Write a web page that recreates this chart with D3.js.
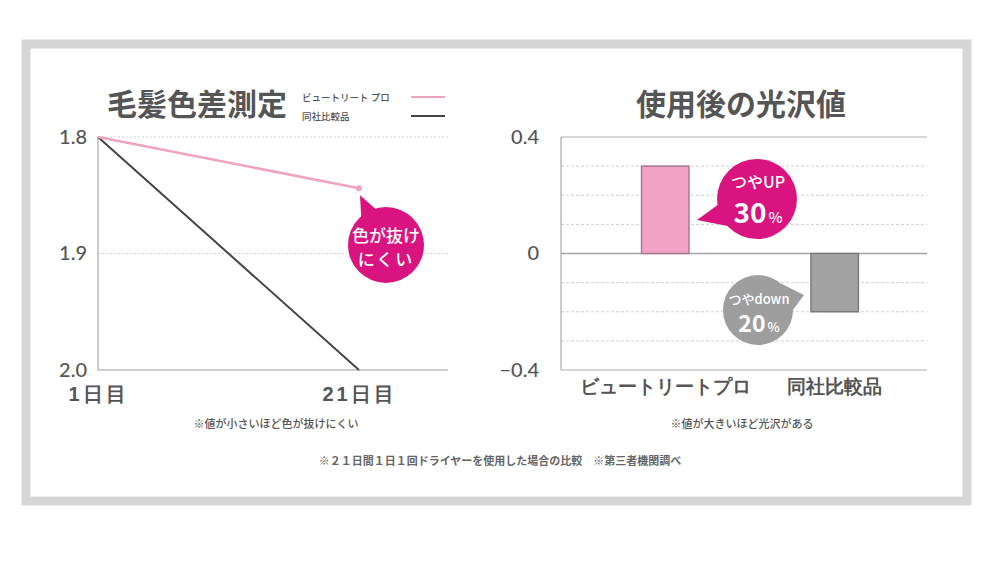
<!DOCTYPE html>
<html>
<head>
<meta charset="utf-8">
<script src="https://cdn.jsdelivr.net/npm/d3@7"></script>
<style>
  html, body { margin: 0; padding: 0; background: #fff; }
  svg { display: block; font-family: "Noto Sans CJK JP", "Noto Sans", sans-serif; }
</style>
</head>
<body>
<svg id="chart" width="1000" height="563"></svg>
<script>
// ---- data ----
const day_labels = ["1日目", "21日目"];
const color_diff_pro = [1.8, 1.844];
const color_diff_other = [1.8, 2.0];
const color_ticks = [1.8, 1.9, 2.0];

const gloss_categories = ["ビュートリートプロ", "同社比較品"];
const gloss_values = [0.3, -0.2];
const gloss_ticks = [0.4, 0, -0.4];
const gloss_grid = [0.3, 0.2, 0.1, -0.1, -0.2, -0.3];

const legend_names = ["ビュートリート プロ", "同社比較品"];

const svg = d3.select("#chart");
const text_color = "#555";
const magenta = "#d9137f";

// outer frame
svg.append("rect")
  .attr("x", 26).attr("y", 44)
  .attr("width", 941).attr("height", 457)
  .attr("fill", "#fff")
  .attr("stroke", "#d6d6d6")
  .attr("stroke-width", 9);

// ---------------- left chart: 毛髪色差測定 ----------------
function build_line_chart() {
  const left = 98, right = 448, top = 137, bottom = 370;

  const x = d3.scalePoint().domain(day_labels).range([left, 359]);
  const y = d3.scaleLinear().domain([1.8, 2.0]).range([top, bottom]);

  const g = svg.append("g");

  // grid
  g.append("g")
    .selectAll("line")
    .data(color_ticks.slice(0, 2))
    .join("line")
    .attr("x1", left).attr("x2", right)
    .attr("y1", d => y(d)).attr("y2", d => y(d))
    .attr("stroke", "#cfcfcf")
    .attr("stroke-width", 1)
    .attr("stroke-dasharray", "2,2");

  // axes lines
  g.append("line")
    .attr("x1", left).attr("x2", right)
    .attr("y1", bottom).attr("y2", bottom)
    .attr("stroke", "#bdbdbd").attr("stroke-width", 1.5);
  g.append("line")
    .attr("x1", left).attr("x2", left)
    .attr("y1", top).attr("y2", bottom)
    .attr("stroke", "#9a9a9a").attr("stroke-width", 1);

  // y tick labels
  const yAxis = d3.axisLeft(y).tickValues(color_ticks).tickFormat(d3.format(".1f")).tickSize(0).tickPadding(11);
  g.append("g")
    .attr("transform", `translate(${ left },0)`)
    .call(yAxis)
    .call(a => a.select(".domain").remove())
    .call(a => a.selectAll("text")
      .attr("fill", text_color)
      .style("font-size", "20px")
      .style("font-weight", "500")
      .style("font-family", "Lato, 'Noto Sans', sans-serif"));

  // x tick labels
  const xAxis = d3.axisBottom(x).tickSize(0).tickPadding(17);
  g.append("g")
    .attr("transform", `translate(0,${ bottom })`)
    .call(xAxis)
    .call(a => a.select(".domain").remove())
    .call(a => a.selectAll("text")
      .attr("fill", text_color)
      .style("font-size", "20px")
      .style("font-weight", "700")
      .style("letter-spacing", "3px"));

  const line = d3.line()
    .x((d, i) => x(day_labels[i]))
    .y(d => y(d));

  g.append("path")
    .datum(color_diff_other)
    .attr("d", line)
    .attr("fill", "none")
    .attr("stroke", "#444")
    .attr("stroke-width", 2);

  g.append("path")
    .datum(color_diff_pro)
    .attr("d", line)
    .attr("fill", "none")
    .attr("stroke", "#eea3bf")
    .attr("stroke-width", 2.5);

  g.append("circle")
    .attr("cx", x(day_labels[1]))
    .attr("cy", y(color_diff_pro[1]))
    .attr("r", 3)
    .attr("fill", "#eea3bf");

  // callout bubble
  const px = x(day_labels[1]) + 1, py = y(color_diff_pro[1]) + 7;
  const cx = 386, cy = 245, r = 38;
  g.append("path")
    .attr("d", `M${ px },${ py } L${ cx - 24 },${ cy - 14 } L${ cx - 8 },${ cy - 34 } Z`)
    .attr("fill", magenta);
  g.append("circle")
    .attr("cx", cx).attr("cy", cy).attr("r", r)
    .attr("fill", magenta);
  g.append("text")
    .attr("x", cx).attr("y", cy - 3)
    .attr("text-anchor", "middle")
    .attr("fill", "#fff")
    .style("font-size", "17px")
    .style("font-weight", "500")
    .text("色が抜け");
  g.append("text")
    .attr("x", cx).attr("y", cy + 21)
    .attr("text-anchor", "middle")
    .attr("fill", "#fff")
    .style("font-size", "17px")
    .style("font-weight", "500")
    .style("letter-spacing", "2px")
    .text("にくい");

  // title
  g.append("text")
    .attr("x", 197).attr("y", 115)
    .attr("text-anchor", "middle")
    .attr("fill", text_color)
    .style("font-size", "30px")
    .style("font-weight", "700")
    .text("毛髪色差測定");

  // legend
  const legend_colors = ["#eea3bf", "#444"];
  const lg = g.append("g")
    .selectAll("g")
    .data(legend_names)
    .join("g")
    .attr("transform", (d, i) => `translate(302,${ 97 + i * 19 })`);
  lg.append("text")
    .attr("y", 3.5)
    .attr("fill", text_color)
    .style("font-size", "9.5px")
    .style("font-weight", "500")
    .text(d => d);
  lg.append("line")
    .attr("x1", 109).attr("x2", 143)
    .attr("y1", 0).attr("y2", 0)
    .attr("stroke", (d, i) => legend_colors[i])
    .attr("stroke-width", 2);

  // note
  g.append("text")
    .attr("x", 276).attr("y", 428)
    .attr("text-anchor", "middle")
    .attr("fill", text_color)
    .style("font-size", "11px")
    .style("font-weight", "500")
    .text("※値が小さいほど色が抜けにくい");
}

// ---------------- right chart: 使用後の光沢値 ----------------
function build_bar_chart() {
  const left = 561, right = 927, top = 137, bottom = 370;

  const x = d3.scaleBand()
    .domain(gloss_categories)
    .range([left, right])
    .paddingInner(0.72)
    .paddingOuter(0.44)
    .align(0.54);
  const y = d3.scaleLinear().domain([0.4, -0.4]).range([top, bottom]);

  const g = svg.append("g");

  g.append("g")
    .selectAll("line")
    .data(gloss_grid)
    .join("line")
    .attr("x1", left).attr("x2", right)
    .attr("y1", d => y(d)).attr("y2", d => y(d))
    .attr("stroke", "#cfcfcf")
    .attr("stroke-dasharray", "3,2");

  g.append("g")
    .selectAll("line")
    .data(gloss_ticks)
    .join("line")
    .attr("x1", left).attr("x2", right)
    .attr("y1", d => y(d)).attr("y2", d => y(d))
    .attr("stroke", d => d === 0 ? "#a5a5a5" : "#c8c8c8")
    .attr("stroke-width", 1.5);

  g.append("line")
    .attr("x1", left).attr("x2", left)
    .attr("y1", top).attr("y2", bottom)
    .attr("stroke", "#9a9a9a");

  const yAxis = d3.axisLeft(y).tickValues(gloss_ticks).tickFormat(d => d === 0 ? "0" : d3.format(".1f")(d)).tickSize(0).tickPadding(22);
  g.append("g")
    .attr("transform", `translate(${ left },0)`)
    .call(yAxis)
    .call(a => a.select(".domain").remove())
    .call(a => a.selectAll("text")
      .attr("fill", text_color)
      .style("font-size", "20px")
      .style("font-weight", "500")
      .style("font-family", "Lato, 'Noto Sans', sans-serif"));

  const xAxis = d3.axisBottom(x).tickSize(0).tickPadding(10);
  g.append("g")
    .attr("transform", `translate(0,${ bottom })`)
    .call(xAxis)
    .call(a => a.select(".domain").remove())
    .call(a => a.selectAll("text")
      .attr("fill", text_color)
      .style("font-size", "19px")
      .style("font-weight", "700"));

  const fills = ["#f2a3c5", "#a3a3a3"];
  const strokes = ["#a7798f", "#7a7a7a"];
  g.append("g")
    .selectAll("rect")
    .data(gloss_values)
    .join("rect")
    .attr("x", (d, i) => x(gloss_categories[i]))
    .attr("width", x.bandwidth())
    .attr("y", d => y(Math.max(0, d)))
    .attr("height", d => Math.abs(y(d) - y(0)))
    .attr("fill", (d, i) => fills[i])
    .attr("stroke", (d, i) => strokes[i])
    .attr("stroke-width", 1.5);

  // bubble: つやUP 30%
  const ux = 757, uy = 199, ur = 40;
  const tipx = x(gloss_categories[0]) + x.bandwidth() + 8, tipy = 220;
  g.append("path")
    .attr("d", `M${ tipx },${ tipy } L${ ux - 34 },${ uy + 2 } L${ ux - 24 },${ uy + 28 } Z`)
    .attr("fill", magenta);
  g.append("circle").attr("cx", ux).attr("cy", uy).attr("r", ur).attr("fill", magenta);
  g.append("text")
    .attr("x", ux + 1).attr("y", uy - 11)
    .attr("text-anchor", "middle")
    .attr("fill", "#fff")
    .style("font-size", "16px")
    .style("font-weight", "500")
    .text("つやUP");
  const t30 = g.append("text")
    .attr("x", ux + 1).attr("y", uy + 24)
    .attr("text-anchor", "middle")
    .attr("fill", "#fff")
    .style("font-weight", "700");
  t30.append("tspan").style("font-size", "28px").text("30");
  t30.append("tspan").style("font-size", "15px").style("font-weight", "500").attr("dx", 2).text("%");

  // bubble: つやdown 20%
  const dx = 758, dy = 310, dr = 35;
  const tip2x = x(gloss_categories[1]) - 7, tip2y = 295;
  g.append("path")
    .attr("d", `M${ tip2x },${ tip2y } L${ dx + 22 },${ dy - 27 } L${ dx + 32 },${ dy + 4 } Z`)
    .attr("fill", "#9e9e9e");
  g.append("circle").attr("cx", dx).attr("cy", dy).attr("r", dr).attr("fill", "#9e9e9e");
  g.append("text")
    .attr("x", dx + 1).attr("y", dy - 6)
    .attr("text-anchor", "middle")
    .attr("fill", "#fff")
    .style("font-size", "13px")
    .style("font-weight", "500")
    .text("つやdown");
  const t20 = g.append("text")
    .attr("x", dx + 1).attr("y", dy + 22)
    .attr("text-anchor", "middle")
    .attr("fill", "#fff")
    .style("font-weight", "700");
  t20.append("tspan").style("font-size", "23px").text("20");
  t20.append("tspan").style("font-size", "13px").style("font-weight", "500").attr("dx", 2).text("%");

  g.append("text")
    .attr("x", 741).attr("y", 115)
    .attr("text-anchor", "middle")
    .attr("fill", text_color)
    .style("font-size", "30px")
    .style("font-weight", "700")
    .text("使用後の光沢値");

  g.append("text")
    .attr("x", 742).attr("y", 428)
    .attr("text-anchor", "middle")
    .attr("fill", text_color)
    .style("font-size", "11px")
    .style("font-weight", "500")
    .text("※値が大きいほど光沢がある");
}

build_line_chart();
build_bar_chart();

svg.append("text")
  .attr("x", 500).attr("y", 465)
  .attr("text-anchor", "middle")
  .attr("fill", "#666")
  .style("font-size", "11px")
  .style("font-weight", "700")
  .text("※２１日間１日１回ドライヤーを使用した場合の比較　※第三者機関調べ");
</script>
</body>
</html>
